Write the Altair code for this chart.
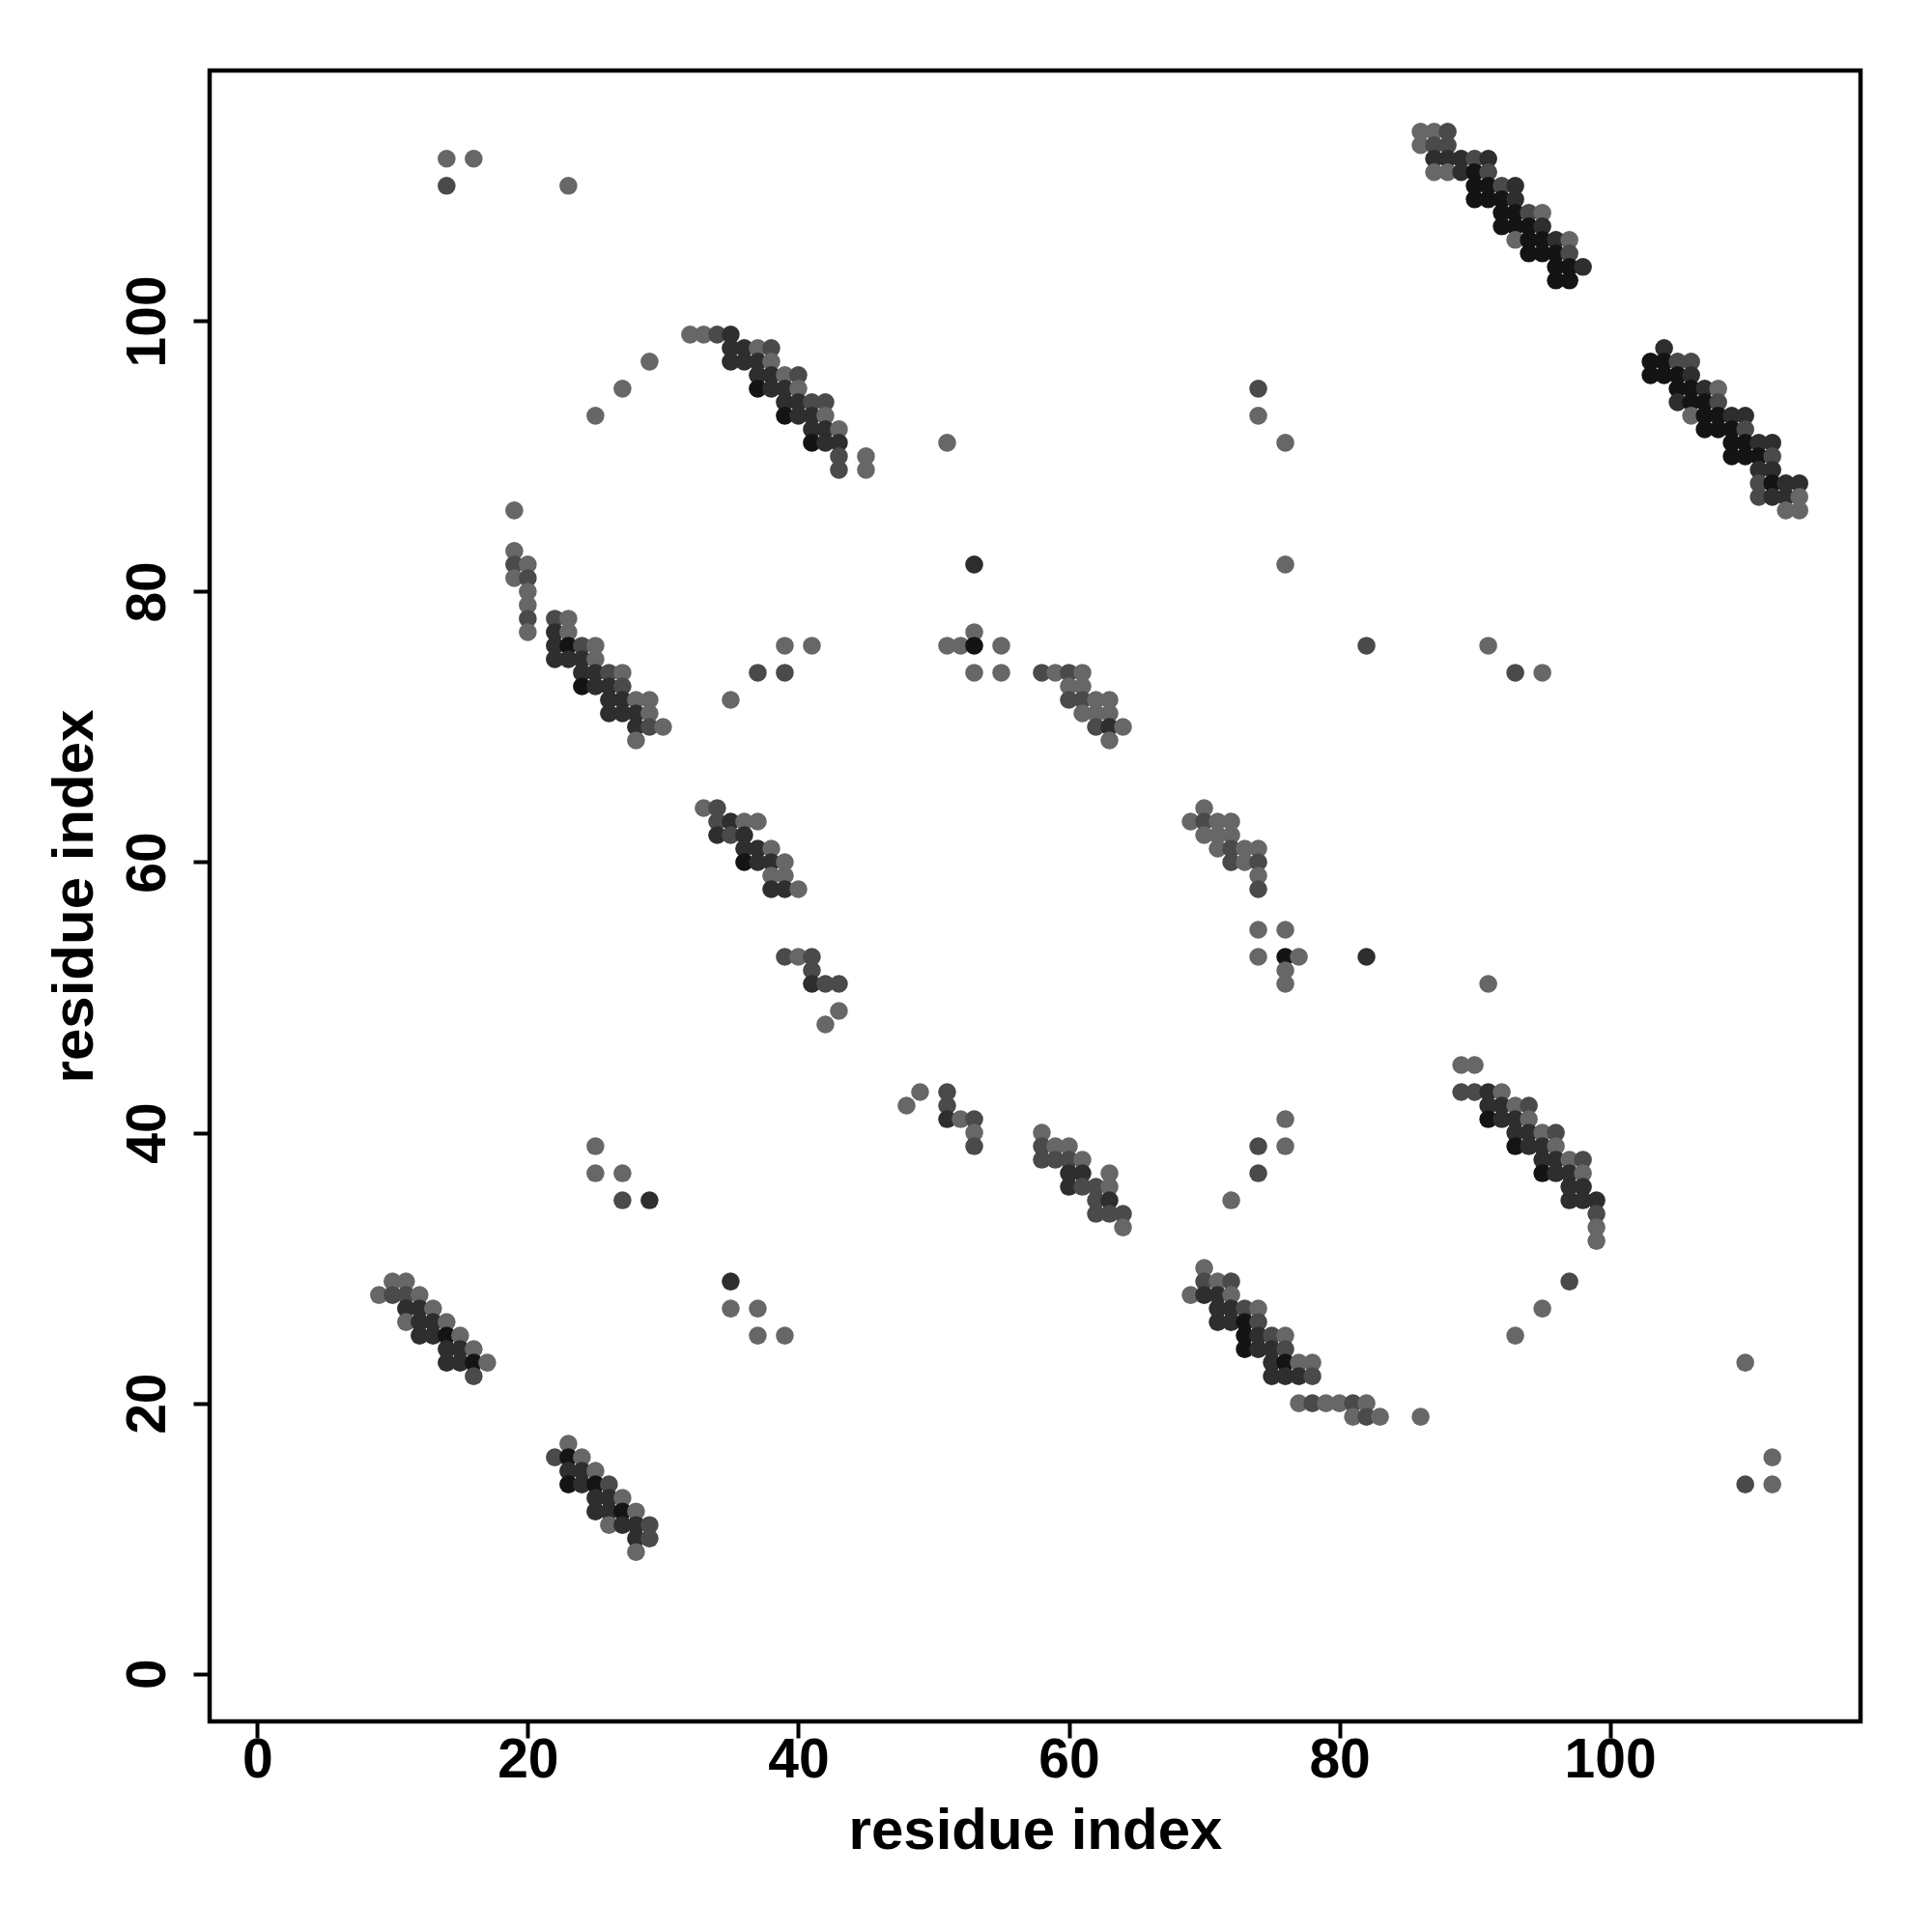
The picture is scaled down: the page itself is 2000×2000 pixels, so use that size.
import altair as alt
import pandas as pd

# contact points: (i, j, shade level 1=light .. 4=darkest)
cluster_a = [(9,28,1),(10,29,1),(11,29,1),(10,28,2),(11,28,2),(12,28,1),
             (11,27,3),(12,27,3),(13,27,1),(11,26,1),(12,26,3),(13,26,3),(14,26,1),
             (12,25,3),(13,25,3),(14,25,4),(15,25,1),(14,24,3),(15,24,3),(16,24,1),
             (14,23,3),(15,23,3),(16,23,4),(17,23,1),(16,22,2)]
cluster_b = [(23,17,1),(22,16,2),(23,16,4),(24,16,1),(23,15,3),(24,15,3),(25,15,1),
             (23,14,4),(24,14,3),(25,14,4),(26,14,2),(25,13,3),(26,13,3),(27,13,1),
             (25,12,3),(26,12,3),(27,12,4),(28,12,1),(26,11,1),(27,11,3),(28,11,3),(29,11,2),
             (28,10,3),(29,10,2),(28,9,1)]
cluster_c = [(19,86,1),(19,83,1),(19,82,2),(20,82,1),(19,81,1),(20,81,2),(20,80,1),(20,79,1),
             (20,78,2),(20,77,1),(22,78,2),(23,78,1),(22,77,3),(23,77,1),
             (22,76,3),(23,76,4),(24,76,2),(25,76,1),(22,75,3),(23,75,3),(24,75,3),(25,75,1),
             (24,74,3),(25,74,3),(26,74,2),(27,74,1),(24,73,4),(25,73,3),(26,73,3),(27,73,2),
             (26,72,3),(27,72,3),(28,72,1),(29,72,1),(26,71,3),(27,71,3),(28,71,3),(29,71,1),
             (28,70,3),(29,70,2),(30,70,1),(28,69,1)]
cluster_d = [(32,99,1),(33,99,1),(34,99,2),(35,99,3),(35,98,3),(36,98,3),(37,98,1),(38,98,2),
             (35,97,3),(36,97,3),(37,97,3),(38,97,1),(37,96,3),(38,96,3),(39,96,1),(40,96,2),
             (37,95,4),(38,95,3),(39,95,3),(40,95,1),(39,94,3),(40,94,3),(41,94,2),(42,94,2),
             (39,93,4),(40,93,3),(41,93,3),(42,93,1),(41,92,3),(42,92,3),(43,92,1),
             (41,91,4),(42,91,3),(43,91,3),(43,90,2),(45,90,1),(43,89,2),(45,89,1)]
cluster_e = [(33,64,1),(34,64,2),(34,63,2),(35,63,3),(36,63,1),(37,63,1),
             (34,62,3),(35,62,2),(36,62,3),(36,61,3),(37,61,3),(38,61,1),
             (36,60,4),(37,60,3),(38,60,3),(39,60,1),(38,59,1),(39,59,1),
             (38,58,3),(39,58,3),(40,58,1),(39,53,2),(40,53,1),(41,53,2),(41,52,2),
             (41,51,3),(42,51,2),(43,51,2),(43,49,1),(42,48,1)]
cluster_f = [(48,42,1),(49,43,1),(51,43,2),(51,42,2),(51,41,3),(52,41,1),(53,41,2),(53,40,1),
             (53,39,2),(58,40,1),(58,39,2),(59,39,1),(60,39,1),(58,38,2),(59,38,2),(60,38,2),
             (61,38,1),(60,37,3),(61,37,3),(63,37,1),(60,36,3),(61,36,2),(62,36,2),(63,36,1),
             (62,35,2),(63,35,3),(62,34,2),(63,34,2),(64,34,2),(64,33,1)]
cluster_g = [(53,82,3),(53,77,1),(51,76,1),(52,76,1),(53,76,4),(55,76,1),(53,74,1),(55,74,1),
             (58,74,2),(59,74,1),(60,74,2),(61,74,1),(60,73,1),(61,73,1),
             (60,72,2),(61,72,2),(62,72,1),(63,72,1),(61,71,1),(62,71,1),(63,71,1),
             (62,70,2),(63,70,3),(64,70,1),(63,69,1)]
cluster_h = [(70,64,1),(69,63,1),(70,63,2),(71,63,1),(72,63,1),(70,62,1),(71,62,1),(72,62,1),
             (71,61,1),(72,61,2),(73,61,1),(74,61,1),(72,60,2),(73,60,1),(74,60,2),
             (74,59,1),(74,58,2),(74,55,1),(76,55,1),(74,53,1),(76,53,4),(77,53,1),(82,53,3),
             (76,52,1),(76,51,1)]
cluster_i = [(70,30,1),(70,29,2),(71,29,1),(72,29,2),(69,28,1),(70,28,3),(71,28,3),(72,28,1),
             (71,27,3),(72,27,3),(73,27,2),(74,27,1),(71,26,3),(72,26,3),(73,26,4),(74,26,2),
             (73,25,4),(74,25,3),(75,25,2),(76,25,1),(73,24,4),(74,24,3),(75,24,3),(76,24,2),
             (75,23,3),(76,23,4),(77,23,1),(78,23,1),(75,22,3),(76,22,3),(77,22,3),(78,22,2),
             (77,20,1),(78,20,2),(79,20,1),(80,20,1),(81,20,2),(82,20,1),
             (81,19,1),(82,19,2),(83,19,1),(86,19,1)]
cluster_j = [(89,45,1),(90,45,1),(89,43,2),(90,43,2),(91,43,3),(92,43,1),
             (91,42,3),(92,42,3),(93,42,1),(94,42,2),(91,41,4),(92,41,3),(93,41,3),(94,41,1),
             (93,40,3),(94,40,3),(95,40,1),(96,40,2),(93,39,4),(94,39,3),(95,39,3),(96,39,1),
             (95,38,3),(96,38,3),(97,38,1),(98,38,2),(95,37,4),(96,37,3),(97,37,3),(98,37,1),
             (97,36,3),(98,36,3),(97,35,3),(98,35,3),(99,35,3),(99,34,2),(99,33,1),(99,32,1),
             (97,29,2),(95,27,1),(93,25,1)]
cluster_k = [(86,114,1),(87,114,1),(88,114,2),(86,113,1),(87,113,2),(88,113,2),
             (87,112,3),(88,112,3),(89,112,3),(90,112,2),(91,112,3),
             (87,111,1),(88,111,1),(89,111,3),(90,111,4),(91,111,2),
             (90,110,4),(91,110,4),(92,110,2),(93,110,3),(90,109,4),(91,109,4),(92,109,4),(93,109,3),
             (92,108,4),(93,108,4),(94,108,2),(95,108,1),(92,107,4),(93,107,4),(94,107,4),(95,107,3),
             (93,106,1),(94,106,4),(95,106,4),(96,106,3),(97,106,1),
             (94,105,4),(95,105,4),(96,105,4),(97,105,2),(96,104,4),(97,104,4),(98,104,3),
             (96,103,4),(97,103,4)]
cluster_l = [(104,98,3),(103,97,4),(104,97,4),(105,97,2),(106,97,2),
             (103,96,4),(104,96,4),(105,96,4),(106,96,3),(105,95,4),(106,95,4),(107,95,3),(108,95,1),
             (105,94,3),(106,94,4),(107,94,4),(108,94,2),
             (106,93,1),(107,93,4),(108,93,4),(109,93,3),(110,93,3),
             (107,92,4),(108,92,4),(109,92,4),(110,92,2),(109,91,4),(110,91,4),(111,91,3),(112,91,3),
             (109,90,4),(110,90,4),(111,90,4),(112,90,2),(111,89,3),(112,89,3),
             (111,88,2),(112,88,4),(113,88,3),(114,88,3),(111,87,2),(112,87,3),(113,87,3),(114,87,1),
             (113,86,1),(114,86,1)]
scattered = [(14,112,1),(16,112,1),(14,110,2),(23,110,1),
             (25,93,1),(27,95,1),(29,97,1),(51,91,1),
             (74,95,2),(74,93,1),(76,91,1),(76,82,1),(82,76,2),(91,76,1),(93,74,2),(95,74,1),
             (35,72,1),(37,74,2),(39,74,2),(39,76,1),(41,76,1),
             (25,39,1),(25,37,1),(27,37,1),(27,35,2),(29,35,3),
             (35,29,3),(35,27,1),(37,27,1),(37,25,1),(39,25,1),
             (91,51,1),(72,35,1),(74,37,2),(74,39,2),(76,39,1),(76,41,1),
             (110,23,1),(112,16,1),(110,14,2),(112,14,1)]

x_ticks = [0, 20, 40, 60, 80, 100]
y_ticks = [0, 20, 40, 60, 80, 100]
shade_levels = [1, 2, 3, 4]
shade_greys = ["#676767", "#4a4a4a", "#2e2e2e", "#141414"]

rows = []
for cl in [cluster_a, cluster_b, cluster_c, cluster_d, cluster_e, cluster_f,
           cluster_g, cluster_h, cluster_i, cluster_j, cluster_k, cluster_l, scattered]:
    for (i, j, s) in cl:
        rows.append({"i": i, "j": j, "shade": s})
df = pd.DataFrame(rows)

FONT = "Liberation Sans"
dom = [-3.52, 118.52]

chart = alt.Chart(df).mark_circle(size=345, opacity=1, strokeWidth=0).encode(
    x=alt.X("i:Q", scale=alt.Scale(domain=dom, nice=False, zero=False),
            axis=alt.Axis(values=x_ticks, title="residue index", grid=False, domain=False,
                          tickColor="black", tickWidth=4, tickSize=17,
                          labelFont=FONT, labelFontSize=57, labelFontWeight="bold",
                          labelColor="black", labelBaseline="alphabetic", labelPadding=40,
                          titleFont=FONT, titleFontSize=60, titleFontWeight="bold",
                          titleColor="black", titleBaseline="alphabetic", titleY=131)),
    y=alt.Y("j:Q", scale=alt.Scale(domain=dom, nice=False, zero=False),
            axis=alt.Axis(values=y_ticks, title="residue index", grid=False, domain=False,
                          tickColor="black", tickWidth=4, tickSize=17,
                          labelFont=FONT, labelFontSize=57, labelFontWeight="bold",
                          labelColor="black", labelAngle=-90, labelAlign="center",
                          labelBaseline="alphabetic", labelPadding=30,
                          titleFont=FONT, titleFontSize=60, titleFontWeight="bold",
                          titleColor="black", titleAngle=-90, titleAlign="center",
                          titleBaseline="alphabetic", titleX=-122, titleY=854.5)),
    color=alt.Color("shade:O", scale=alt.Scale(domain=shade_levels, range=shade_greys),
                    legend=None),
).properties(
    width=1709, height=1709,
    autosize=alt.AutoSizeParams(type="none"),
    padding={"left": 209, "top": 65, "right": 66, "bottom": 200},
).configure(
    background="white",
    view=alt.ViewConfig(stroke="black", strokeWidth=4.5, fill="white"),
)

chart.save("out.html", embed_options={"renderer": "svg", "actions": False})
